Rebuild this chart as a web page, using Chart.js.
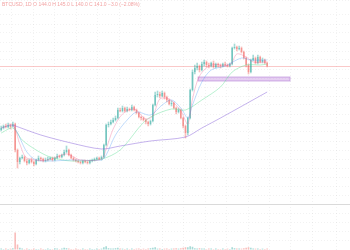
<!DOCTYPE html>
<html>
<head>
<meta charset="utf-8">
<script src="https://cdn.jsdelivr.net/npm/chart.js@4.4.1/dist/chart.umd.min.js"></script>
<style>
  html, body { margin: 0; padding: 0; background: #fff; }
  #wrap { position: relative; width: 350px; height: 250px; overflow: hidden; }
  #legend {
    position: absolute; left: 2px; top: 1px;
    font: 5px "Liberation Sans", Arial, sans-serif;
    color: #f2a3a3; white-space: nowrap;
  }
</style>
</head>
<body>
<div id="wrap">
  <canvas id="priceChart" width="350" height="250"></canvas>
  <div id="legend">BTCUSD, 1D  O 144.0  H 145.0  L 140.0  C 141.0  −3.0 (−2.08%)</div>
</div>
<script>
// candles, one per slot (price units)
const opens = [
    74, 76, 78, 77, 79, 78, 80, 54, 42, 46,
    47, 43, 41, 44, 42, 40, 44, 46, 45, 43,
    44, 45, 46, 44, 46, 48, 47, 49, 52, 54,
    49, 46, 44, 43, 42, 41, 43, 42, 41, 43,
    44, 45, 46, 45, 47, 59, 79, 80, 82, 84,
    86, 94, 93, 96, 93, 95, 94, 97, 94, 91,
    87, 86, 84, 82, 80, 83, 99, 109, 110, 108,
    111, 107, 104, 100, 101, 96, 92, 94, 86, 78,
    71, 86, 114, 132, 136, 138, 134, 140, 142, 139,
    138, 141, 137, 140, 139, 138, 140, 139, 138, 140,
    156, 157, 155, 156, 152, 146, 139, 132, 144, 146,
    141, 147, 142, 144, 141
];
const highs = [
    78, 79, 80, 81, 80, 82, 81, 55, 47, 49,
    48, 45, 45, 46, 43, 45, 48, 47, 46, 46,
    47, 47, 47, 47, 50, 49, 50, 54, 58, 55,
    50, 47, 45, 44, 43, 44, 44, 43, 44, 45,
    46, 47, 47, 48, 60, 80, 82, 84, 86, 88,
    96, 96, 98, 97, 97, 96, 99, 98, 95, 92,
    88, 87, 85, 83, 84, 100, 112, 113, 112, 113,
    112, 108, 105, 103, 102, 97, 96, 95, 87, 79,
    87, 115, 134, 139, 141, 139, 142, 144, 143, 141,
    142, 143, 141, 141, 140, 141, 142, 140, 141, 157,
    160, 158, 158, 157, 153, 147, 140, 145, 149, 147,
    149, 148, 146, 145, 142
];
const lows = [
    73, 75, 76, 76, 75, 77, 52, 36, 40, 45,
    42, 39, 40, 41, 38, 39, 43, 43, 42, 42,
    43, 44, 43, 43, 45, 46, 46, 48, 51, 48,
    45, 43, 42, 41, 40, 40, 41, 40, 40, 42,
    43, 44, 44, 44, 46, 58, 77, 79, 81, 83,
    85, 92, 92, 92, 92, 93, 93, 93, 90, 86,
    84, 83, 80, 78, 79, 82, 98, 107, 106, 107,
    105, 102, 99, 98, 95, 90, 91, 85, 76, 66,
    69, 85, 113, 130, 134, 132, 133, 138, 137, 136,
    137, 136, 136, 137, 136, 137, 138, 137, 137, 139,
    155, 153, 154, 151, 145, 137, 130, 131, 143, 140,
    140, 141, 141, 140, 137
];
const closes = [
    76, 78, 77, 79, 77, 80, 54, 42, 46, 47,
    43, 41, 44, 42, 40, 44, 46, 45, 43, 44,
    45, 46, 44, 46, 48, 47, 49, 52, 54, 49,
    46, 44, 43, 42, 41, 43, 42, 41, 43, 44,
    45, 46, 45, 47, 59, 79, 80, 82, 84, 86,
    94, 93, 96, 93, 95, 94, 97, 94, 91, 87,
    86, 84, 82, 80, 83, 99, 109, 110, 108, 111,
    107, 104, 100, 101, 96, 92, 94, 86, 78, 71,
    86, 114, 132, 136, 138, 134, 140, 142, 139, 138,
    141, 137, 140, 139, 138, 140, 139, 138, 140, 156,
    157, 155, 156, 152, 146, 139, 132, 144, 146, 141,
    147, 142, 144, 141, 138
];
const volumes = [
    3, 2, 3, 2, 3, 4,
    38, 12, 5, 3, 2, 3, 2, 2, 3,
    2, 2, 3, 2, 2, 3, 2, 2,
    4, 3, 2, 3, 5, 4,
    3, 2, 2, 3, 2, 2, 3, 2, 2, 3, 2, 2, 3, 2, 3,
    6, 8, 4, 3, 3, 4, 5,
    3, 3, 2, 3, 2, 3, 2, 3, 3, 2, 3, 2, 3, 4,
    5, 6, 3, 3, 2, 3, 3, 2, 3, 3, 4, 3, 4, 5, 6,
    6, 8, 7, 4, 3, 4, 3, 3, 2, 3, 3, 2, 3, 2, 2, 3, 2, 3, 2,
    6, 4, 3, 3, 3, 4, 5, 6, 5, 3, 3, 3, 2, 3, 2, 3
];

// moving averages, read at a few candle positions
const maPinkAt  = [0, 5, 8, 11, 20, 28, 34, 43, 45, 48, 52, 57, 62, 65, 68, 72, 77, 80, 82, 85, 90, 98, 101, 105, 108, 114];
const maPink    = [76, 79, 60, 46, 44, 50, 44, 45, 55, 75, 90, 95, 85, 88, 105, 105, 93, 80, 105, 128, 139, 139, 150, 147, 142, 142];
const maBlueAt  = [0, 5, 11, 15, 21, 30, 43, 45, 49, 54, 58, 64, 69, 73, 77, 80, 82, 86, 90, 96, 103, 107, 114];
const maBlue    = [76, 78, 52, 44, 43, 44, 44, 49, 69, 84, 92, 89, 99, 104, 96, 86, 99, 122, 134, 138, 146, 144, 144];
const maGreenAt = [0, 5, 9, 15, 21, 30, 43, 51, 60, 64, 73, 79, 86, 94, 99, 105, 111, 114];
const maGreen   = [71, 76, 64, 54, 47, 43, 45, 54, 79, 87, 95, 94, 104, 117, 132, 139, 139, 140];
const maSlowAt  = [5, 17, 30, 43, 51, 64, 79, 86, 94, 114];
const maSlow    = [79, 69, 61, 55, 58, 63, 67, 76, 86, 112];

// horizontal level and support zone
const level = 138.3;
const zone = { from: 84.4, to: 123.8, low: 123, high: 127 };
const slots = 150;

const UP = 'rgba(38, 166, 154, 0.4)';
const DOWN = 'rgba(239, 83, 80, 0.38)';

function points(at, vals) {
    return at.map((x, k) => ({ x: x, y: vals[k] }));
}

function candleColor(ctx) {
    const i = ctx.dataIndex;
    return closes[i] >= opens[i] ? UP : DOWN;
}

const overlays = {
    id: 'overlays',
    beforeDatasetsDraw(chart) {
        const ctx = chart.ctx;
        const xs = chart.scales.x;
        const ys = chart.scales.y;
        const vs = chart.scales.v;
        const area = chart.chartArea;
        ctx.save();
        // level line
        const ly = Math.round(ys.getPixelForValue(level)) + 0.5;
        ctx.strokeStyle = 'rgba(242, 120, 120, 0.4)';
        ctx.lineWidth = 1;
        ctx.beginPath();
        ctx.moveTo(area.left, ly);
        ctx.lineTo(area.right, ly);
        ctx.stroke();
        // zone box
        const x1 = xs.getPixelForValue(zone.from);
        const x2 = xs.getPixelForValue(zone.to);
        const y1 = ys.getPixelForValue(zone.high);
        const y2 = ys.getPixelForValue(zone.low);
        ctx.fillStyle = 'rgba(206, 160, 230, 0.5)';
        ctx.strokeStyle = 'rgba(170, 110, 210, 0.5)';
        ctx.fillRect(x1, y1, x2 - x1, y2 - y1);
        ctx.strokeRect(x1, y1, x2 - x1, y2 - y1);
        // pane separator
        const sy = Math.round(vs.top) + 0.5;
        ctx.strokeStyle = '#dadada';
        ctx.beginPath();
        ctx.moveTo(area.left, sy);
        ctx.lineTo(area.right, sy);
        ctx.stroke();
        ctx.restore();
    }
};

const lineStyle = { type: 'line', yAxisID: 'y', borderWidth: 1, pointRadius: 0, tension: 0.3, fill: false };

new Chart(document.getElementById('priceChart'), {
    type: 'bar',
    data: {
        datasets: [
            Object.assign({}, lineStyle, { data: points(maPinkAt, maPink), borderColor: 'rgba(240, 98, 146, 0.35)', order: 1 }),
            Object.assign({}, lineStyle, { data: points(maBlueAt, maBlue), borderColor: 'rgba(66, 150, 245, 0.33)', order: 2 }),
            Object.assign({}, lineStyle, { data: points(maGreenAt, maGreen), borderColor: 'rgba(80, 220, 140, 0.4)', order: 3 }),
            Object.assign({}, lineStyle, { data: points(maSlowAt, maSlow), borderColor: 'rgba(126, 87, 214, 0.45)', order: 3 }),
            {
                data: closes.map((c, i) => ({ x: i, y: [opens[i], c] })),
                yAxisID: 'y',
                backgroundColor: candleColor,
                grouped: false,
                categoryPercentage: 1,
                barPercentage: 0.7,
                minBarLength: 1,
                order: 4
            },
            {
                data: closes.map((c, i) => ({ x: i, y: [lows[i], highs[i]] })),
                yAxisID: 'y',
                backgroundColor: candleColor,
                grouped: false,
                barThickness: 1,
                order: 5
            },
            {
                data: volumes.map((v, i) => ({ x: i, y: v })),
                yAxisID: 'v',
                backgroundColor: candleColor,
                grouped: false,
                categoryPercentage: 1,
                barPercentage: 0.7,
                order: 6
            }
        ]
    },
    options: {
        responsive: false,
        animation: false,
        layout: { padding: 0 },
        plugins: { legend: { display: false }, tooltip: { enabled: false } },
        scales: {
            x: {
                type: 'linear',
                min: -0.5,
                max: slots - 0.5,
                offset: false,
                ticks: { display: false, stepSize: 9.2 },
                grid: { color: 'rgba(0, 0, 0, 0.05)', drawTicks: false },
                border: { display: false, dash: [1, 2] }
            },
            v: {
                stack: 'pane',
                stackWeight: 46,
                min: 0,
                max: 100,
                ticks: { display: false, stepSize: 20 },
                grid: { color: 'rgba(0, 0, 0, 0.05)', drawTicks: false },
                border: { display: false, dash: [1, 2] }
            },
            y: {
                stack: 'pane',
                stackWeight: 204,
                min: 0,
                max: 204,
                ticks: { display: false, stepSize: 9 },
                grid: { color: 'rgba(0, 0, 0, 0.05)', drawTicks: false },
                border: { display: false, dash: [1, 2] }
            }
        }
    },
    plugins: [overlays]
});
</script>
</body>
</html>
